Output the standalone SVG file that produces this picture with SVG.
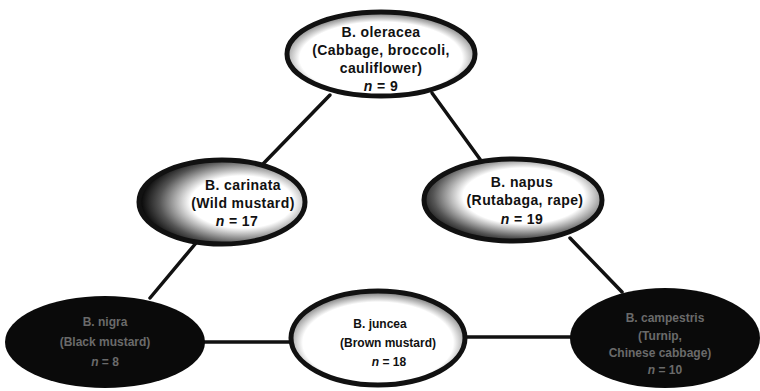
<svg xmlns="http://www.w3.org/2000/svg" width="760" height="391" viewBox="0 0 760 391">
<defs>
<style>
.lbl{font-family:"Liberation Sans","DejaVu Sans",sans-serif;font-weight:bold;fill:#111;text-anchor:middle}
.big{font-size:14px;letter-spacing:0.4px}
.sm{font-size:12px}
.dark{font-family:"Liberation Sans","DejaVu Sans",sans-serif;font-weight:bold;fill:#6a6a6a;text-anchor:middle;font-size:12px}
.ell{stroke:#111;stroke-width:5}
.conn{stroke:#111;stroke-width:3.5;fill:none;stroke-linecap:round}
</style>
<radialGradient id="gl" cx="0.62" cy="0.5" r="0.62">
<stop offset="0" stop-color="#fff"/>
<stop offset="0.5" stop-color="#fff"/>
<stop offset="0.8" stop-color="#555"/>
<stop offset="1" stop-color="#000"/>
</radialGradient>
<radialGradient id="gr" cx="0.56" cy="0.45" r="0.62">
<stop offset="0" stop-color="#fff"/>
<stop offset="0.55" stop-color="#fff"/>
<stop offset="0.82" stop-color="#555"/>
<stop offset="1" stop-color="#000"/>
</radialGradient>
<radialGradient id="gt" cx="0.5" cy="0.55" r="0.6">
<stop offset="0" stop-color="#fff"/>
<stop offset="0.72" stop-color="#fff"/>
<stop offset="0.92" stop-color="#666"/>
<stop offset="1" stop-color="#000"/>
</radialGradient>
</defs>
<rect width="760" height="391" fill="#fff"/>
<g id="connectors">
<line class="conn" x1="330" y1="95" x2="262" y2="165"/>
<line class="conn" x1="432" y1="93" x2="482" y2="162"/>
<line class="conn" x1="196" y1="243" x2="150" y2="298"/>
<line class="conn" x1="570" y1="238" x2="622" y2="292"/>
<line class="conn" x1="203" y1="342" x2="291" y2="342"/>
<line class="conn" x1="466" y1="337" x2="572" y2="337"/>
</g>
<g id="oleracea">
<ellipse class="ell" cx="381" cy="54" rx="94" ry="42" fill="url(#gt)"/>
<text class="lbl big" x="381" y="37">B. oleracea</text>
<text class="lbl big" x="381" y="55">(Cabbage, broccoli,</text>
<text class="lbl big" x="381" y="73">cauliflower)</text>
<text class="lbl big" x="381" y="91"><tspan font-style="italic">n</tspan> = 9</text>
</g>
<g id="carinata">
<ellipse class="ell" cx="222" cy="202" rx="83" ry="42" fill="url(#gl)"/>
<text class="lbl big" x="243" y="190">B. carinata</text>
<text class="lbl big" x="243" y="208">(Wild mustard)</text>
<text class="lbl big" x="237" y="226"><tspan font-style="italic">n</tspan> = 17</text>
</g>
<g id="napus">
<ellipse class="ell" cx="513" cy="200" rx="89" ry="41" fill="url(#gr)"/>
<text class="lbl big" x="522" y="187">B. napus</text>
<text class="lbl big" x="525" y="205">(Rutabaga, rape)</text>
<text class="lbl big" x="522" y="224"><tspan font-style="italic">n</tspan> = 19</text>
</g>
<g id="nigra">
<ellipse cx="105" cy="342" rx="100" ry="46" fill="#0a0a0a"/>
<text class="dark" x="105" y="326">B. nigra</text>
<text class="dark" x="105" y="346">(Black mustard)</text>
<text class="dark" x="105" y="366"><tspan font-style="italic">n</tspan> = 8</text>
</g>
<g id="juncea">
<ellipse class="ell" cx="378" cy="338" rx="87" ry="47" fill="url(#gt)"/>
<text class="lbl sm" x="380" y="328">B. juncea</text>
<text class="lbl sm" x="388" y="347">(Brown mustard)</text>
<text class="lbl sm" x="389" y="366"><tspan font-style="italic">n</tspan> = 18</text>
</g>
<g id="campestris">
<ellipse cx="665" cy="338" rx="95" ry="50" fill="#0a0a0a"/>
<text class="dark" x="665" y="322">B. campestris</text>
<text class="dark" x="660" y="340">(Turnip,</text>
<text class="dark" x="660" y="357">Chinese cabbage)</text>
<text class="dark" x="665" y="374"><tspan font-style="italic">n</tspan> = 10</text>
</g>
</svg>
